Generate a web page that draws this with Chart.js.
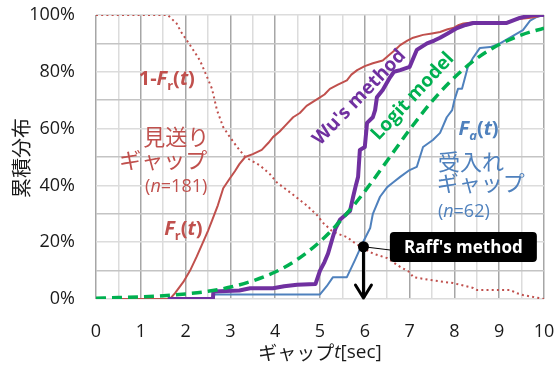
<!DOCTYPE html>
<html>
<head>
<meta charset="utf-8">
<script src="https://cdn.jsdelivr.net/npm/chart.js@4.4.1/dist/chart.umd.min.js"></script>
<style>
  html, body { margin: 0; padding: 0; background: #ffffff; }
  canvas { display: block; }
</style>
</head>
<body>
<canvas id="c" width="557" height="367"></canvas>
<script>
// Gap acceptance: cumulative distributions of rejected / accepted gaps (t in seconds, value in %)

// F_r(t): rejected gaps (見送りギャップ, n=181)
const rejT = [0.5, 1.65, 1.76, 1.95, 2.1, 2.25, 2.39, 2.5, 2.6, 2.72, 2.84, 2.99, 3.1, 3.2, 3.33, 3.5, 3.7, 3.85, 3.95, 4.1, 4.25, 4.4, 4.55, 4.7, 4.85, 5.0, 5.1, 5.22, 5.4, 5.6, 5.7, 5.83, 6.0, 6.18, 6.4, 6.55, 6.7, 6.79, 6.95, 7.08, 7.3, 7.5, 7.68, 7.85, 7.97, 8.1, 8.2, 8.5, 8.8, 9.17, 9.4, 9.7, 9.85, 10];
const rejP = [0, 0, 2, 6, 10, 15, 20, 24, 28, 33, 39, 42.5, 45, 47.5, 50, 51, 52.5, 55, 57, 59, 61.5, 64, 65.5, 68, 69.5, 71, 72, 74, 75.5, 77, 79, 80.6, 82, 83, 84, 86, 88, 89.4, 91, 92, 93, 93.5, 94, 95, 95.4, 96.5, 97, 97.5, 97.5, 97.5, 98.5, 99, 99.5, 100];

// 1-F_r(t)
const surT = [0, 1.6, 1.8, 1.9, 2.03, 2.17, 2.32, 2.43, 2.59, 2.7, 2.84, 2.99, 3.15, 3.33, 3.44, 3.66, 3.88, 4.04, 4.26, 4.49, 4.7, 4.93, 5.07, 5.29, 5.6, 5.78, 5.96, 6.18, 6.5, 6.72, 6.79, 7.0, 7.08, 7.45, 7.97, 8.42, 8.5, 9.24, 9.4, 9.53, 10];
const surP = [100, 100, 97, 94, 91, 87.7, 84, 80, 74, 66.5, 60.5, 57, 53.5, 50, 49, 47, 44, 41, 38.4, 35.6, 33, 29.6, 26.8, 23.6, 21.8, 19.7, 18, 16, 14.4, 12, 11.3, 9.5, 7.7, 6.7, 5.6, 3.9, 3.2, 3.2, 2, 1.4, 0];

// F_a(t): accepted gaps (受入れギャップ, n=62)
const accT = [2.6, 2.61, 5.0, 5.15, 5.29, 5.6, 5.78, 5.96, 6.12, 6.18, 6.34, 6.5, 6.63, 6.79, 7.0, 7.16, 7.3, 7.52, 7.68, 7.83, 7.95, 8.0, 8.08, 8.17, 8.3, 8.42, 8.57, 8.8, 9.02, 9.24, 9.53, 9.69, 9.84, 10];
const accP = [0, 1.6, 1.6, 4.5, 7.7, 7.7, 13.7, 20, 25, 30, 36, 39.4, 41, 43, 45.4, 46.5, 53.5, 56, 58.5, 64, 66.5, 70, 74, 74, 81.7, 85, 88.4, 88.7, 90, 92, 94.7, 98, 99.3, 100];

// Wu's method
const wuT = [1.6, 2.61, 2.62, 3.2, 3.44, 3.95, 4.2, 4.49, 4.9, 5.0, 5.1, 5.18, 5.29, 5.35, 5.45, 5.67, 5.74, 5.8, 5.85, 5.89, 6.0, 6.05, 6.18, 6.23, 6.27, 6.4, 6.56, 6.65, 6.79, 7.0, 7.16, 7.39, 7.55, 7.68, 7.85, 8.06, 8.25, 8.42, 9.17, 9.3, 9.46, 9.75, 10];
const wuP = [0, 0, 2.6, 3, 3.8, 3.8, 4.5, 5, 5.3, 10, 13, 16, 22, 25, 28, 31, 36, 40, 43, 52.5, 53.5, 62, 64, 66.5, 71, 73.6, 78, 80, 80.6, 81.7, 87.7, 90, 91, 92, 93.5, 95.4, 96.5, 97.2, 97.2, 98, 99, 100, 100];

// Logit model
const logitT = [0, 0.5, 1, 1.5, 2, 2.5, 3, 3.5, 4, 4.5, 5, 5.5, 6, 6.5, 7, 7.5, 8, 8.5, 9, 9.5, 10];
const logitP = [0.3, 0.5, 0.75, 1.15, 1.8, 2.7, 4.2, 6.4, 9.5, 14, 20.2, 28.3, 37.9, 48.7, 59.6, 69.6, 78, 84.7, 89.6, 93, 95.4];

// Raff's method: critical gap where F_a(t) meets 1-F_r(t)
const raffT = [5.97];
const raffP = [18.4];

// Axis tick labels
const xTickLabels = ['0', '1', '2', '3', '4', '5', '6', '7', '8', '9', '10'];
const yTickLabels = ['0%', '20%', '40%', '60%', '80%', '100%'];

const pts = (xs, ys) => xs.map((x, i) => ({ x: x, y: ys[i] }));

const RED = '#c0504d';
const BLUE = '#4f81bd';
const PURPLE = '#7030a0';
const GREEN = '#00b050';
const JP = '"Noto Sans CJK JP", "Noto Sans", sans-serif';
const LAT = '"Open Sans", "Noto Sans", sans-serif';

function richText(ctx, parts, cx, cy, color) {
  ctx.save();
  ctx.fillStyle = color;
  ctx.textBaseline = 'alphabetic';
  ctx.textAlign = 'left';
  let w = 0;
  parts.forEach(p => { ctx.font = p.font; w += ctx.measureText(p.text).width + (p.gap || 0); });
  let x = cx - w / 2;
  parts.forEach(p => {
    ctx.font = p.font;
    ctx.fillText(p.text, x, cy + (p.dy || 0));
    x += ctx.measureText(p.text).width + (p.gap || 0);
  });
  ctx.restore();
}

function plainText(ctx, text, cx, cy, font, color, angle) {
  ctx.save();
  ctx.translate(cx, cy);
  if (angle) ctx.rotate(angle);
  ctx.font = font;
  ctx.fillStyle = color;
  ctx.textAlign = 'center';
  ctx.textBaseline = 'middle';
  ctx.fillText(text, 0, 0);
  ctx.restore();
}

const annotations = {
  id: 'annotations',
  afterDatasetsDraw(chart) {
    const ctx = chart.ctx;
    const xs = chart.scales.x, ys = chart.scales.y;
    const X = v => xs.getPixelForValue(v);
    const Y = v => ys.getPixelForValue(v);

    const bI = s => `italic bold ${s}px ${LAT}`;
    const b = s => `bold ${s}px ${LAT}`;

    // 1-F_r(t)
    richText(ctx, [
      { text: '1-', font: b(20) },
      { text: 'F', font: bI(20) },
      { text: 'r', font: b(13), dy: 5 },
      { text: '(', font: b(20) },
      { text: 't', font: bI(20) },
      { text: ')', font: b(20) }
    ], X(1.58), Y(75.4), RED);

    // rejected-gap caption
    plainText(ctx, '見送り', X(1.79), Y(57), `22px ${JP}`, RED);
    plainText(ctx, 'ギャップ', X(1.5), Y(49), `22px ${JP}`, RED);
    richText(ctx, [
      { text: '(', font: `18px ${LAT}` },
      { text: 'n', font: `italic 18px ${LAT}` },
      { text: '=181)', font: `18px ${LAT}` }
    ], X(1.79), Y(37.6), RED);

    // F_r(t)
    richText(ctx, [
      { text: 'F', font: bI(20) },
      { text: 'r', font: b(13), dy: 5 },
      { text: '(', font: b(20) },
      { text: 't', font: bI(20) },
      { text: ')', font: b(20) }
    ], X(1.95), Y(22.5), RED);

    // F_a(t)
    richText(ctx, [
      { text: 'F', font: bI(20) },
      { text: 'a', font: bI(13), dy: 5 },
      { text: '(', font: b(20) },
      { text: 't', font: bI(20) },
      { text: ')', font: b(20) }
    ], X(8.54), Y(57.7), BLUE);

    // accepted-gap caption
    plainText(ctx, '受入れ', X(8.37), Y(48.2), `22px ${JP}`, BLUE);
    plainText(ctx, 'ギャップ', X(8.59), Y(41), `22px ${JP}`, BLUE);
    richText(ctx, [
      { text: '(', font: `18px ${LAT}` },
      { text: 'n', font: `italic 18px ${LAT}` },
      { text: '=62)', font: `18px ${LAT}` }
    ], X(8.21), Y(28.8), BLUE);

    // rotated method labels
    plainText(ctx, "Wu's method", X(5.88), Y(71), `bold 19px ${LAT}`, PURPLE, -46 * Math.PI / 180);
    plainText(ctx, 'Logit model', X(7.07), Y(71.3), `bold 19px ${LAT}`, GREEN, -47 * Math.PI / 180);

    // Raff's method marker, arrow and callout
    const px = X(raffT[0]), py = Y(raffP[0]), y0 = Y(0);
    const bx = X(8.2), by = Y(18.3);
    ctx.save();
    ctx.strokeStyle = '#000';
    ctx.lineWidth = 1;
    ctx.beginPath();
    ctx.moveTo(px, py);
    ctx.lineTo(bx - 73, by + 3);
    ctx.stroke();

    ctx.lineWidth = 3;
    ctx.lineCap = 'round';
    ctx.lineJoin = 'round';
    ctx.beginPath();
    ctx.moveTo(px, py);
    ctx.lineTo(px, y0 - 1);
    ctx.moveTo(px - 8, y0 - 14);
    ctx.lineTo(px, y0 - 1);
    ctx.lineTo(px + 8, y0 - 14);
    ctx.stroke();

    ctx.fillStyle = '#000';
    ctx.beginPath();
    ctx.arc(px, py, 5.5, 0, Math.PI * 2);
    ctx.fill();

    const bw = 147, bh = 30;
    ctx.beginPath();
    ctx.roundRect(bx - bw / 2, by - bh / 2, bw, bh, 4);
    ctx.fill();
    ctx.restore();
    plainText(ctx, "Raff's method", bx, by + 1, `bold 17px ${LAT}`, '#ffffff');
  },
  afterDraw(chart) {
    const ctx = chart.ctx;
    const area = chart.chartArea;
    // y-axis title
    plainText(ctx, '累積分布', 21, (area.top + area.bottom) / 2 + 1, `20px ${JP}`, '#1a1a1a', -Math.PI / 2);
    // x-axis title: ギャップ t[sec]
    ctx.save();
    ctx.fillStyle = '#1a1a1a';
    ctx.textBaseline = 'middle';
    const parts = [
      { text: 'ギャップ', font: `19px ${JP}` },
      { text: 't', font: `italic 19px ${LAT}` },
      { text: '[sec]', font: `19px ${LAT}` }
    ];
    let w = 0;
    parts.forEach(p => { ctx.font = p.font; w += ctx.measureText(p.text).width; });
    let x = (area.left + area.right) / 2 - w / 2;
    parts.forEach(p => { ctx.font = p.font; ctx.fillText(p.text, x, 353); x += ctx.measureText(p.text).width; });
    ctx.restore();
  }
};

const line = (label, data, color, width, extra) => Object.assign({
  label: label,
  data: data,
  borderColor: color,
  backgroundColor: color,
  borderWidth: width,
  pointRadius: 0,
  fill: false,
  tension: 0,
  borderJoinStyle: 'round'
}, extra || {});

new Chart(document.getElementById('c'), {
  type: 'line',
  data: {
    datasets: [
      line('Logit model', pts(logitT, logitP), GREEN, 3.5, { borderDash: [10, 6], tension: 0.35, cubicInterpolationMode: 'monotone' }),
      line("Wu's method", pts(wuT, wuP), PURPLE, 4),
      line('F_r(t)', pts(rejT, rejP), RED, 2),
      line('1-F_r(t)', pts(surT, surP), RED, 2, { borderDash: [2, 3.2] }),
      line('F_a(t)', pts(accT, accP), BLUE, 2)
    ]
  },
  options: {
    responsive: false,
    animation: false,
    events: [],
    layout: { padding: { top: 15, right: 13, left: 0, bottom: 0 } },
    plugins: { legend: { display: false }, tooltip: { enabled: false } },
    scales: {
      x: {
        type: 'linear',
        min: 0,
        max: 10,
        afterFit: s => { s.height = 68; },
        border: { display: false },
        grid: {
          drawTicks: true,
          tickLength: 22,
          tickColor: 'rgba(0,0,0,0)',
          lineWidth: 1.5,
          color: c => Number.isInteger(c.tick.value) ? '#a6a6a6' : '#dcdcdc'
        },
        ticks: {
          stepSize: 0.5,
          autoSkip: false,
          maxRotation: 0,
          padding: 0,
          color: '#1a1a1a',
          font: { family: LAT, size: 18 },
          callback: v => Number.isInteger(v) ? xTickLabels[v] : ''
        }
      },
      y: {
        min: 0,
        max: 100,
        afterFit: s => { s.width = 96; },
        border: { display: false },
        grid: {
          drawTicks: true,
          tickLength: 21,
          tickColor: 'rgba(0,0,0,0)',
          lineWidth: 1.5,
          color: c => (Math.round(c.tick.value) % 20 === 10) ? '#c4c4c4' : '#dcdcdc'
        },
        ticks: {
          stepSize: 10,
          autoSkip: false,
          padding: 0,
          color: '#1a1a1a',
          font: { family: LAT, size: 18 },
          callback: v => (Math.round(v) % 20 === 0) ? yTickLabels[Math.round(v) / 20] : ''
        }
      }
    }
  },
  plugins: [annotations]
});
</script>
</body>
</html>
